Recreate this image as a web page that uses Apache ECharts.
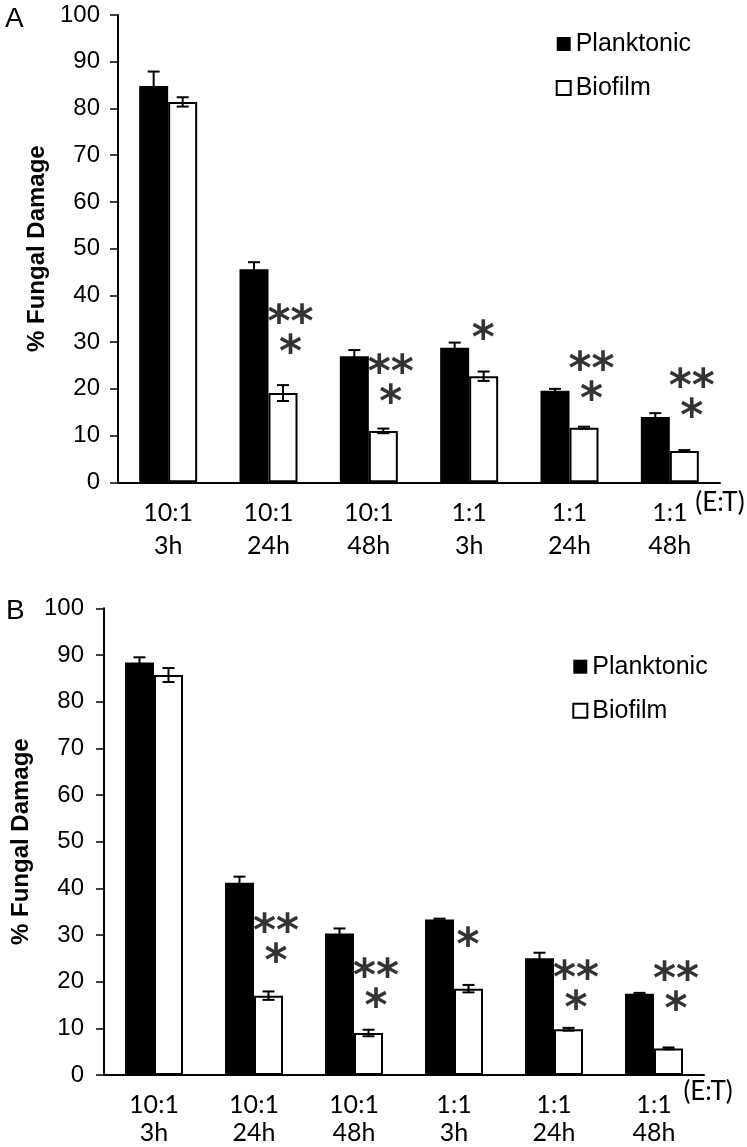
<!DOCTYPE html>
<html>
<head>
<meta charset="utf-8">
<script src="https://cdn.jsdelivr.net/npm/echarts@6/dist/echarts.min.js"></script>
<style>
html,body{margin:0;padding:0;background:#fff;}
#chart{width:747px;height:1147px;}
</style>
</head>
<body>
<div id="chart"></div>
<script>
// ---- data ----
const categories = ['10:1\n3h', '10:1\n24h', '10:1\n48h', '1:1\n3h', '1:1\n24h', '1:1\n48h'];
const seriesNames = ['Planktonic', 'Biofilm'];
const yTicks = [0, 10, 20, 30, 40, 50, 60, 70, 80, 90, 100];

// Panel A
const planktonicA = [84.8, 45.6, 27.0, 28.8, 19.6, 14.0];
const planktonicErrA = [3.1, 1.5, 1.3, 1.1, 0.4, 0.8];
const biofilmA = [81.4, 19.1, 11.0, 22.7, 11.7, 6.7];
const biofilmErrA = [1.0, 1.7, 0.5, 1.0, 0.2, 0.2];
const sigTextA = ['', '**\n*', '**\n*', '*', '**\n*', '**\n*'];
const sigLevelA = [null, 29.8, 19.1, 32.8, 19.75, 16.3];

// Panel B
const planktonicB = [88.4, 41.2, 30.3, 33.3, 25.0, 17.4];
const planktonicErrB = [1.1, 1.3, 1.1, 0.2, 1.2, 0.2];
const biofilmB = [85.7, 17.0, 9.0, 18.5, 9.8, 5.7];
const biofilmErrB = [1.5, 0.9, 0.7, 0.8, 0.3, 0.2];
const sigTextB = ['', '**\n*', '**\n*', '*', '**\n*', '**\n*'];
const sigLevelB = [null, 26.4, 16.8, 29.8, 16.4, 16.1];

// ---- helpers ----
const BAR_W = 29;
function errData(vals, errs) { return vals.map((v, i) => [i, v, errs[i]]); }
function errSeries(vals, errs, idx, dx) {
  return {
    type: 'custom', xAxisIndex: idx, yAxisIndex: idx, z: 10, silent: true,
    data: errData(vals, errs),
    renderItem: function (params, api) {
      const i = api.value(0), v = api.value(1), e = api.value(2);
      const t = api.coord([i, v + e]);
      const b = api.coord([i, v - e]);
      const x = t[0] + dx, cw = 6;
      const st = { stroke: '#000', lineWidth: 2 };
      return { type: 'group', children: [
        { type: 'line', shape: { x1: x, y1: t[1], x2: x, y2: b[1] }, style: st },
        { type: 'line', shape: { x1: x - cw, y1: t[1], x2: x + cw, y2: t[1] }, style: st },
        { type: 'line', shape: { x1: x - cw, y1: b[1], x2: x + cw, y2: b[1] }, style: st }
      ]};
    }
  };
}
function sigSeries(texts, levels, idx) {
  const data = [];
  texts.forEach((t, i) => {
    if (t) data.push({ value: [i, levels[i]], label: { formatter: t, offset: [t.length > 1 ? 22 : 14, 27] } });
  });
  return {
    type: 'scatter', xAxisIndex: idx, yAxisIndex: idx, symbolSize: 0, silent: true, z: 11,
    data: data,
    label: { show: true, position: 'top', distance: 0, fontFamily: 'DejaVu Sans', fontWeight: 'bold', fontSize: 44,
             lineHeight: 30, color: '#000', align: 'center' }
  };
}
function barSeries(name, vals, idx, bio) {
  return {
    type: 'bar', name: name, xAxisIndex: idx, yAxisIndex: idx, barWidth: BAR_W, barGap: '0%',
    data: vals,
    itemStyle: bio ? { color: '#fff', borderColor: '#000', borderWidth: 2 } : { color: '#000' }
  };
}
function xAx(idx, margin, lh, nameGap, nameLH) {
  return {
    type: 'category', gridIndex: idx, data: categories,
    axisLine: { lineStyle: { color: '#000', width: 2 } },
    axisTick: { length: 6, lineStyle: { color: '#000', width: 1.5 } },
    axisLabel: { interval: 0, margin: margin, fontFamily: 'Lato', fontSize: 25, lineHeight: lh, color: '#000' },
    name: '(E:T)', nameLocation: 'end', nameGap: nameGap,
    nameTextStyle: { fontFamily: 'Lato', fontSize: 26, color: '#000', align: 'left', verticalAlign: 'top', lineHeight: nameLH }
  };
}
function yAx(idx, margin, nameGap) {
  return {
    type: 'value', gridIndex: idx, min: yTicks[0], max: yTicks[yTicks.length - 1], interval: 10,
    axisLine: { show: true, lineStyle: { color: '#000', width: 2 } },
    axisTick: { show: true, length: 8, lineStyle: { color: '#000', width: 1.5 } },
    splitLine: { show: false },
    axisLabel: { margin: margin, fontFamily: 'Liberation Sans', fontSize: 24, color: '#000' },
    name: '% Fungal Damage', nameLocation: 'middle', nameGap: nameGap,
    nameTextStyle: { fontFamily: 'Liberation Sans', fontWeight: 'bold', fontSize: 24, color: '#000' }
  };
}
function legendCfg(left, top) {
  return {
    orient: 'vertical', left: left, top: top, padding: 0, itemWidth: 14, itemHeight: 14, itemGap: 19, selectedMode: false,
    textStyle: { fontFamily: 'Liberation Sans', fontSize: 25, lineHeight: 25, color: '#000' },
    data: [
      { name: seriesNames[0], icon: 'rect', itemStyle: { color: '#000', borderWidth: 0 } },
      { name: seriesNames[1], icon: 'rect', itemStyle: { color: '#fff', borderColor: '#000', borderWidth: 2 } }
    ]
  };
}

const chart = echarts.init(document.getElementById('chart'), null, { renderer: 'canvas' });
chart.setOption({
  animation: false,
  backgroundColor: '#fff',
  grid: [
    { left: 118, top: 15, width: 602, height: 467.3 },
    { left: 104, top: 608.3, width: 600, height: 466.9 }
  ],
  xAxis: [xAx(0, 14, 33, -33, 40), xAx(1, 16, 28, -20.6, 34)],
  yAxis: [yAx(0, 18, 65), yAx(1, 20, 68)],
  legend: [legendCfg(555.7, 31.5), legendCfg(572.3, 654.2)],
  graphic: [
    { type: 'text', left: 5, top: 5, style: { text: 'A', font: '28px "Liberation Sans"', fill: '#000' } },
    { type: 'text', left: 6, top: 597, style: { text: 'B', font: '28px "Liberation Sans"', fill: '#000' } }
  ],
  series: [
    barSeries(seriesNames[0], planktonicA, 0, false),
    barSeries(seriesNames[1], biofilmA, 0, true),
    errSeries(planktonicA, planktonicErrA, 0, -BAR_W / 2),
    errSeries(biofilmA, biofilmErrA, 0, BAR_W / 2),
    sigSeries(sigTextA, sigLevelA, 0),
    barSeries(seriesNames[0], planktonicB, 1, false),
    barSeries(seriesNames[1], biofilmB, 1, true),
    errSeries(planktonicB, planktonicErrB, 1, -BAR_W / 2),
    errSeries(biofilmB, biofilmErrB, 1, BAR_W / 2),
    sigSeries(sigTextB, sigLevelB, 1)
  ]
});
</script>
</body>
</html>
